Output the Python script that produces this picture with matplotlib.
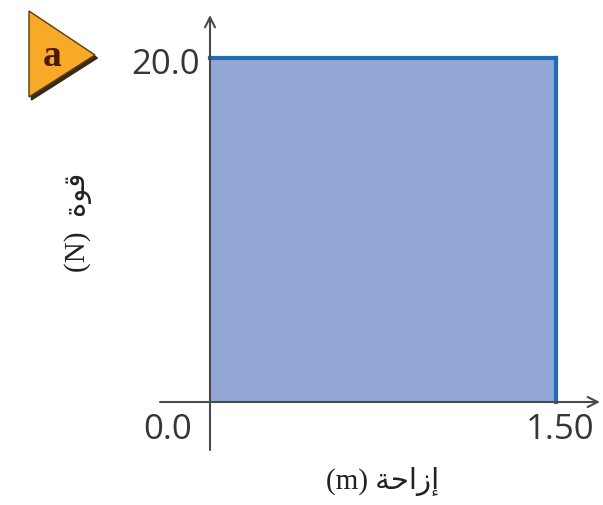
import matplotlib
matplotlib.use("Agg")
import matplotlib.pyplot as plt
from matplotlib.patches import Polygon

# Data
displacement = [0.0, 1.50]          # m
force = [20.0, 20.0]                # N
x_tick_labels = ["0.0", "1.50"]
y_tick_labels = ["20.0"]
panel_label = "a"
# Arabic labels (presentation forms, visual order, so they render joined)
xlabel = "(m) " + "\uFE94\uFEA3\uFE8D\uFEAF\uFE87"   # إزاحة (m)
ylabel = "(N)  " + "\uFE93\uFEEE\uFED7"              # قوة (N)

W, H = 603, 505
fig = plt.figure(figsize=(W / 100, H / 100), dpi=100)
ax = fig.add_axes([0, 0, 1, 1])
ax.set_axis_off()

# pixel mapping: x0 -> 210px, 1.5 -> 556px ; y0 -> 402px, 20 -> 58px (from top)
sx = (556 - 210) / 1.5
sy = (402 - 58) / 20.0
ax.set_xlim(-210 / sx, (W - 210) / sx)
ax.set_ylim(-(H - 402) / sy, 20 + 58 / sy)

fill_c = "#94a6d4"
edge_c = "#1e6db6"
axis_c = "#4a4a4a"

# filled area under force curve
ax.fill_between(displacement, [0, 0], force, color=fill_c, lw=0, zorder=1)
# top and right edge
ax.plot(displacement, force, color=edge_c, lw=3.0, solid_capstyle="projecting", zorder=3)
ax.plot([displacement[-1], displacement[-1]], [0, force[-1]], color=edge_c, lw=3.0, zorder=3)

# axes with arrows
x_lo, x_hi = -50 / sx, (600 - 210) / sx
y_lo, y_hi = -(450 - 402) / sy, 20 + (58 - 15) / sy
ax.annotate("", xy=(x_hi, 0), xytext=(x_lo, 0),
            arrowprops=dict(arrowstyle="->", color=axis_c, lw=1.5,
                            mutation_scale=18, shrinkA=0, shrinkB=0), zorder=4)
ax.annotate("", xy=(0, y_hi), xytext=(0, y_lo),
            arrowprops=dict(arrowstyle="->", color=axis_c, lw=1.5,
                            mutation_scale=18, shrinkA=0, shrinkB=0), zorder=4)

tick_font = dict(family=["Open Sans", "DejaVu Sans"], fontsize=25, color="#363636")
ax.text(-10 / sx, force[0] - 7 / sy, y_tick_labels[0], ha="right", va="center", **tick_font)
ax.text(-18 / sx, -(430 - 402) / sy, x_tick_labels[0], ha="right", va="center", **tick_font)
ax.text(displacement[-1] + 38 / sx, -(430 - 402) / sy, x_tick_labels[1],
        ha="right", va="center", **tick_font)

lab_font = dict(family=["Liberation Serif", "DejaVu Sans"], fontsize=21, color="#222222")
fig.text(383 / W, 1 - 482 / H, xlabel, ha="center", va="center", **lab_font)
fig.text(78 / W, 1 - 222 / H, ylabel, ha="center", va="center", rotation=90, **lab_font)

# panel badge
tri_px = [(29, 11), (95, 55), (29, 97)]
shadow = Polygon([(x / W + 0.004, 1 - (y + 3) / H) for x, y in tri_px],
                 closed=True, transform=fig.transFigure, color="#3a2a10", zorder=5)
badge = Polygon([(x / W, 1 - y / H) for x, y in tri_px], closed=True,
                transform=fig.transFigure, facecolor="#f7a928", edgecolor="#5a3a10",
                lw=1.0, zorder=6)
fig.patches.extend([shadow, badge])
fig.text(52 / W, 1 - 57 / H, panel_label, ha="center", va="center",
         family=["Liberation Serif", "DejaVu Serif"], fontweight="bold",
         fontsize=27, color="#4a1a05", zorder=7)

fig.savefig("out.png", dpi=100)
